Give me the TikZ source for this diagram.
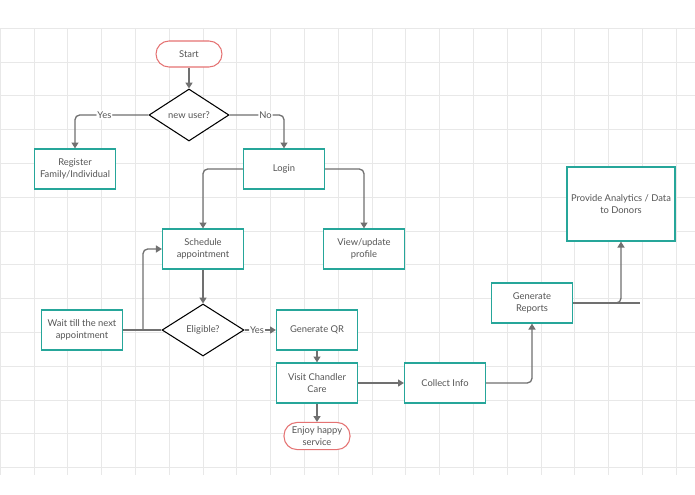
\documentclass[tikz,border=0pt]{standalone}
\usepackage{fontspec}
\setmainfont{Lato}
\usetikzlibrary{arrows.meta, shapes.geometric}
\definecolor{teal}{RGB}{38,166,154}
\definecolor{pinkred}{RGB}{229,115,115}
\definecolor{conn}{RGB}{112,112,112}
\definecolor{txt}{RGB}{85,85,85}
\tikzset{
  box/.style={draw=teal, line width=1.1pt, fill=white, minimum width=81*0.03cm, minimum height=40*0.03cm, align=center, text=txt},
  term/.style={draw=pinkred, line width=0.9pt, fill=white, rounded corners=13*0.03cm, minimum width=66*0.03cm, minimum height=26*0.03cm, align=center, text=txt},
  decide/.style={draw=black, line width=0.9pt, fill=white, diamond, aspect=1.6, inner sep=0pt, minimum width=80*0.03cm, minimum height=52*0.03cm, text=txt},
  flow/.style={draw=conn, line width=1.1pt, rounded corners=4pt, -{Triangle[length=5pt, width=6pt]}},
  plain/.style={draw=conn, line width=1.1pt, rounded corners=4pt},
  lbl/.style={fill=white, inner sep=1pt, text=txt}
}
\begin{document}
\begin{tikzpicture}[x=0.03cm, y=-0.03cm, font=\fontsize{8}{10.5}\selectfont]
\useasboundingbox (0,0) rectangle (695,494);
\fill[white] (0,0) rectangle (695,494);
% grid
\foreach \i in {0,...,20} \draw[black!9, line width=0.5pt] (\i*33.8,28) -- (\i*33.8,475);
\foreach \j in {0,...,13} \draw[black!9, line width=0.5pt] (0,28+\j*33.8) -- (695,28+\j*33.8);

\node[term] (start) at (189,54) {Start};
\node[decide] (newuser) at (189,115) {new user?};
\node[box] (register) at (75,169) {Register\\Family/Individual};
\node[box] (login) at (284,169) {Login};
\node[box] (schedule) at (203,249) {Schedule\\appointment};
\node[box] (profile) at (364,249) {View/update\\profile};
\node[decide, minimum width=82*0.03cm] (eligible) at (203,330) {Eligible?};
\node[box] (wait) at (82,330) {Wait till the next\\appointment};
\node[box] (qr) at (317,330) {Generate QR};
\node[box] (visit) at (317,383) {Visit Chandler\\Care};
\node[term] (enjoy) at (317,436) {Enjoy happy\\service};
\node[box] (collect) at (445,383) {Collect Info};
\node[box] (reports) at (532,303) {Generate\\Reports};
\node[box, minimum width=108*0.03cm, minimum height=74*0.03cm] (donors) at (621,204) {Provide Analytics / Data\\to Donors};
\coordinate (tail) at (640,303);

\draw[flow] (start) -- (newuser);
\draw[flow] (newuser.west) -| node[lbl, pos=0.3] {Yes} (register.north);
\draw[flow] (newuser.east) -| node[lbl, pos=0.33] {No} (login.north);
\draw[flow] (login.west) -| (schedule.north);
\draw[flow] (login.east) -| (profile.north);
\draw[flow] (schedule) -- (eligible);
\draw[plain] (eligible.west) -- (wait.east);
\draw[flow] (143,330) |- (schedule.west);
\draw[flow] (eligible.east) -- node[lbl, pos=0.4] {Yes} (qr.west);
\draw[flow] (qr) -- (visit);
\draw[flow] (visit) -- (enjoy);
\draw[flow] (visit) -- (collect);
\draw[flow] (collect.east) -| (reports.south);
\draw[plain] (reports.east) -- (tail);
\draw[flow] (610,303) -| (donors.south);
\end{tikzpicture}
\end{document}
